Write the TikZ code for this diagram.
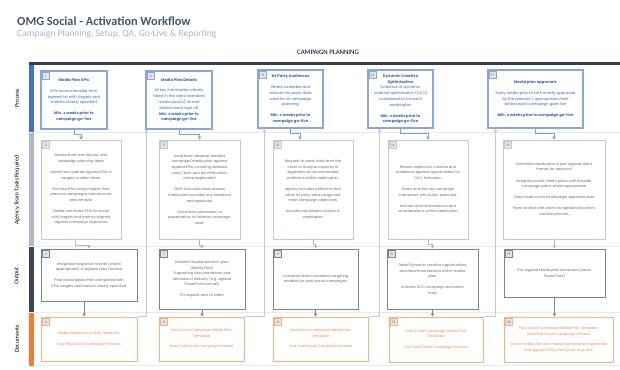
\documentclass[tikz,border=0pt]{standalone}
\usepackage{fontspec}
\setmainfont{Poppins}
\newfontfamily\titlefont{Carlito}
\usetikzlibrary{arrows.meta,calc}

\definecolor{titlec}{HTML}{44546A}
\definecolor{subc}{HTML}{A9B5C6}
\definecolor{navy}{HTML}{333F50}
\definecolor{procbar}{HTML}{4472C4}
\definecolor{agcybar}{HTML}{ADB9CA}
\definecolor{outpbar}{HTML}{3B4658}
\definecolor{docbar}{HTML}{ED7D31}
\definecolor{procline}{HTML}{8AA6DA}
\definecolor{proctext}{HTML}{3B64B5}
\definecolor{agcyline}{HTML}{C3CAD6}
\definecolor{bodytext}{HTML}{6A6A6A}
\definecolor{outpline}{HTML}{7A8596}
\definecolor{docline}{HTML}{F4B183}
\definecolor{doctext}{HTML}{EF8A4A}
\definecolor{tagfill}{HTML}{E4E4E4}
\definecolor{sepc}{HTML}{E6E9EE}

% box with its number tag, placed by its corners:
% #1 style, #2 name, #3 x1, #4 y1, #5 x2, #6 y2, #7 number, #8 text
\newcommand\flowbox[8]{%
  \node[#1, minimum width={(#5-#3)*1pt}, minimum height={(#6-#4)*1pt}]
    (#2) at ({(#3+#5)/2},{(#4+#6)/2}) {#8};
  \node[#1tag, anchor=north west] (#2n) at ([shift={(1.6,1.6)}]#2.north west) {#7};}

\tikzset{
  boxbase/.style={draw, fill=white, align=center, inner sep=1pt,
    font=\fontsize{3.6}{5.6}\selectfont, text=bodytext},
  tagbase/.style={fill=tagfill, text=bodytext, inner sep=0.6pt,
    minimum width=7pt, minimum height=7pt, font=\fontsize{3.2}{4}\selectfont},
  proc/.style={boxbase, draw=procline, line width=1.1pt, text=proctext,
    font=\fontsize{3.8}{5.8}\selectfont},
  proctag/.style={tagbase, draw=procline, line width=0.6pt},
  agcy/.style={boxbase, draw=agcyline, line width=0.8pt},
  agcytag/.style={tagbase, draw=agcyline, line width=0.5pt},
  outp/.style={boxbase, draw=outpline, line width=0.85pt},
  outptag/.style={tagbase, draw=outpline, line width=0.5pt},
  docm/.style={boxbase, draw=docline, line width=1pt, text=doctext},
  docmtag/.style={tagbase, draw=docline, line width=0.7pt, fill=tagfill},
  lanelab/.style={rotate=90, font=\titlefont\fontsize{6}{7}\selectfont, text=black, inner sep=0},
  conbase/.style={line width=0.55pt, -{Triangle[length=3pt,width=3.4pt]}},
  cproc/.style={conbase, draw=procline!85!procbar},
  cagcy/.style={conbase, draw=agcybar},
  coutp/.style={conbase, draw=outpline},
  cback/.style={conbase, draw=agcyline},
  sepline/.style={draw=sepc, line width=0.6pt}
}

\begin{document}
\begin{tikzpicture}[x=1pt,y=-1pt]
\useasboundingbox (0,0) rectangle (620,369);

% heading
\node[anchor=west, inner sep=0, text=titlec,
  font=\titlefont\bfseries\fontsize{12.3}{14}\selectfont] (title) at (17,21)
  {OMG Social - Activation Workflow};
\node[anchor=west, inner sep=0, text=subc,
  font=\titlefont\fontsize{9.5}{11}\selectfont] (subtitle) at (17,34.5)
  {Campaign Planning, Setup, QA, Go-Live \& Reporting};
\node[inner sep=0, font=\titlefont\fontsize{6.8}{8}\selectfont] (phase) at (328,52)
  {CAMPAIGN PLANNING};

% phase bar and swimlanes
\fill[navy] (29,61.5) rectangle (620,64.5);
\fill[procbar] (29,65) rectangle (34,131.5);
\fill[agcybar] (29,132.5) rectangle (34,245.5);
\fill[outpbar] (29,246.5) rectangle (34,311.5);
\fill[docbar] (29,312.5) rectangle (34,366);
\draw[sepline] (34,132) -- (620,132);
\draw[sepline] (34,246) -- (620,246);
\draw[sepline] (34,312) -- (620,312);
\draw[sepline] (34,365.5) -- (620,365.5);

\node[lanelab] (lproc) at (17,98) {Process};
\node[lanelab] (lagcy) at (17,190) {Agency Team Tasks Required};
\node[lanelab] (loutp) at (17,276) {Output};
\node[lanelab] (ldocm) at (17,339) {Documents};

% ---- process lane
\flowbox{proc}{b1}{41}{71}{107}{129}{1}{\textbf{Media Plan KPIs}\\[5pt]
  KPIs recommended from\\agreed list with targets and\\metrics clearly specified\\[5pt]
  \textbf{Min. x weeks prior to}\\\textbf{campaign go-live}}
\flowbox{proc}{b5}{146}{71}{212}{129}{5}{\textbf{Media Plan Details}\\[5pt]
  All key information clearly\\listed in the client standard\\media plan(s) format\\before client sign off\\
  \textbf{Min. x weeks prior to}\\\textbf{campaign go-live}}
\flowbox{proc}{b9}{258}{70}{323}{128}{9}{\textbf{1st Party Audiences}\\[5pt]
  Where available and\\relevant 1st party data\\used for all campaign\\planning\\[5pt]
  \textbf{Min. x weeks prior to}\\\textbf{campaign go-live}}
\flowbox{proc}{b13}{368}{70}{433}{128}{13}{\textbf{Dynamic Creative}\\\textbf{Optimisation}\\
  Evidence of dynamic\\creative optimisation (DCO)\\consideration for each\\media plan\\[5pt]
  \textbf{Min. x weeks prior to}\\\textbf{campaign go-live}}
\flowbox{proc}{b17}{488}{70}{583}{128}{17}{\textbf{Media plan approvals}\\[5pt]
  Every media plan to be formally approved\\by the relevant / appropriate client\\before each campaign goes live\\[5pt]
  \textbf{Min. x weeks prior to campaign go-live}}

% ---- agency lane
\flowbox{agcy}{b2}{41}{140}{121}{239}{2}{Review brief and discuss with\\campaign planning team\\[5.5pt]
  Submit any queries against KPIs or\\targets to client team\\[5.5pt]
  Prioritise KPIs using insights from\\previous campaigns and account\\benchmarks\\[5.5pt]
  Define and share KPIs for social\\with targets and metrics aligned\\against campaign objectives}
\flowbox{agcy}{b6}{159}{140}{240}{239}{6}{Local team develop detailed\\campaign/media plan against\\agreed KPIs, including detailed\\costs (tech and ad verification,\\where applicable)\\[5.5pt]
  OMG Activation lead reviews\\media plan provides any feedback\\and approves.\\[5.5pt]
  Client lead submission or\\presentation to Unilever campaign\\lead}
\flowbox{agcy}{b10}{273}{140}{353}{239}{10}{Request 1st party data from the\\client to analyse capacity of\\segments as recommended\\platforms within media plan.\\[5.5pt]
  Agency includes platforms that\\allow 1st party data usage and\\meet campaign objectives.\\[5.5pt]
  Include calculated volumes in\\mediaplan}
\flowbox{agcy}{b14}{388}{140}{468}{239}{14}{Review objectives, creative and\\audiences against opportunities for\\DCO Activation\\[5.5pt]
  Share and discuss campaign\\framework with Adylic specialist\\[5.5pt]
  Include recommendations and\\considerations within media plan}
\flowbox{agcy}{b18}{503}{140}{605}{239}{18}{Formalise media plan in pre-agreed client\\format for approval\\[5.5pt]
  Integrate social media plans with broader\\campaign plans where appropriate\\[5.5pt]
  Client Lead or Social Manager approves plan\\[5.5pt]
  Plans shared with client via agreed document\\transfer process}

% ---- output lane
\flowbox{outp}{b3}{41}{249}{137}{301}{3}{Integrated response to brief (where\\appropriate), in agreed client format\\[5pt]
  Paid Social Media Plan completed with\\KPIs, targets and metrics clearly specified}
\flowbox{outp}{b7}{159}{249}{245}{309}{7}{Detailed implementation plan\\(Media Plan)\\Supporting documentation and\\rationale of delivery (e.g. agreed\\PowerPoint format)\\[5pt]
  PO request sent to client}
\flowbox{outp}{b11}{273}{249}{358}{309}{11}{Customer Match audience targeting\\enabled for paid social campaigns}
\flowbox{outp}{b15}{387}{249}{478}{309}{15}{Detail Dynamic creative opportunities\\and recommendations within media\\plan\\[5pt]
  Activate DCO campaign activation\\tools}
\flowbox{outp}{b19}{504}{249}{605}{297}{19}{Pre-agreed Media plan document (excel,\\PowerPoint)}

% ---- documents lane
\flowbox{docm}{b4}{41}{317}{137}{361}{4}{Media Response to Brief Template\\[6pt]
  Hive Paid Social Campaign Process}
\flowbox{docm}{b8}{159}{317}{244}{361}{8}{Paid Social Campaign Media Plan\\Template\\[5pt]
  Hive Paid Social Campaign Process}
\flowbox{docm}{b12}{273}{317}{368}{361}{12}{Paid Social Campaign Media Plan\\Template\\[5pt]
  Hive Paid Social Campaign Process}
\flowbox{docm}{b16}{389}{317}{483}{362}{16}{Paid Social Campaign Media Plan\\Template\\[5pt]
  Hive Paid Social Campaign Process}
\flowbox{docm}{b20}{504}{317}{613}{362}{20}{Paid Social Campaign Media Plan Template\\Hive Paid Social Campaign Process\\[5pt]
  Social media plan and media authorisation approved\\and signed off by client prior to go live}

% ---- connectors: process -> tasks
\draw[cproc] (b1.south) -- ++(0,5) -| (b2.north);
\draw[cproc] (b5.south) -- ++(0,5) -| (b6.north);
\draw[cproc] (b9.south) -- ++(0,5) -| ($(b10.north)+(-13,0)$);
\draw[cproc] (b13.south) -- ++(0,5) -| (b14.north);
\draw[cproc] (b17.south) -- ++(0,5) -| (b18.north);

% tasks -> output
\draw[cagcy] ($(b2.south)+(-6,0)$) -- ++(0,6) -| (b3.north);
\draw[cagcy] (b6.south) -- ++(0,6) -| (b7.north);
\draw[cagcy] (b10.south) -- ++(0,5) -| (b11.north);
\draw[cagcy] (b14.south) -- ++(0,5) -| (b15.north);
\draw[cagcy] (b18.south) -- ++(0,5) -| (b19.north);

% output -> documents
\draw[coutp] ($(b3.south)+(-5,0)$) -- ($(b4.north)+(-5,0)$);
\draw[coutp] (b7.south) -- (b7.south |- b8.north);
\draw[coutp] (b11.south) -- (b11.south |- b12.north);
\draw[coutp] (b15.south) -- (b15.south |- b16.north);
\draw[coutp] (b19.south) -- (b19.south |- b20.north);

% documents -> next process step
\draw[cback] (b4.north east) -| ($(b5.south west)+(1,0)$);
\draw[cback] (b8.north east) -| ($(b9.south west)+(7,0)$);
\draw[cback] (b12.north east) -| ($(b13.south west)+(12,0)$);
\draw[cback] (b16.north east) -| ($(b17.south west)+(8,0)$);
\end{tikzpicture}
\end{document}
